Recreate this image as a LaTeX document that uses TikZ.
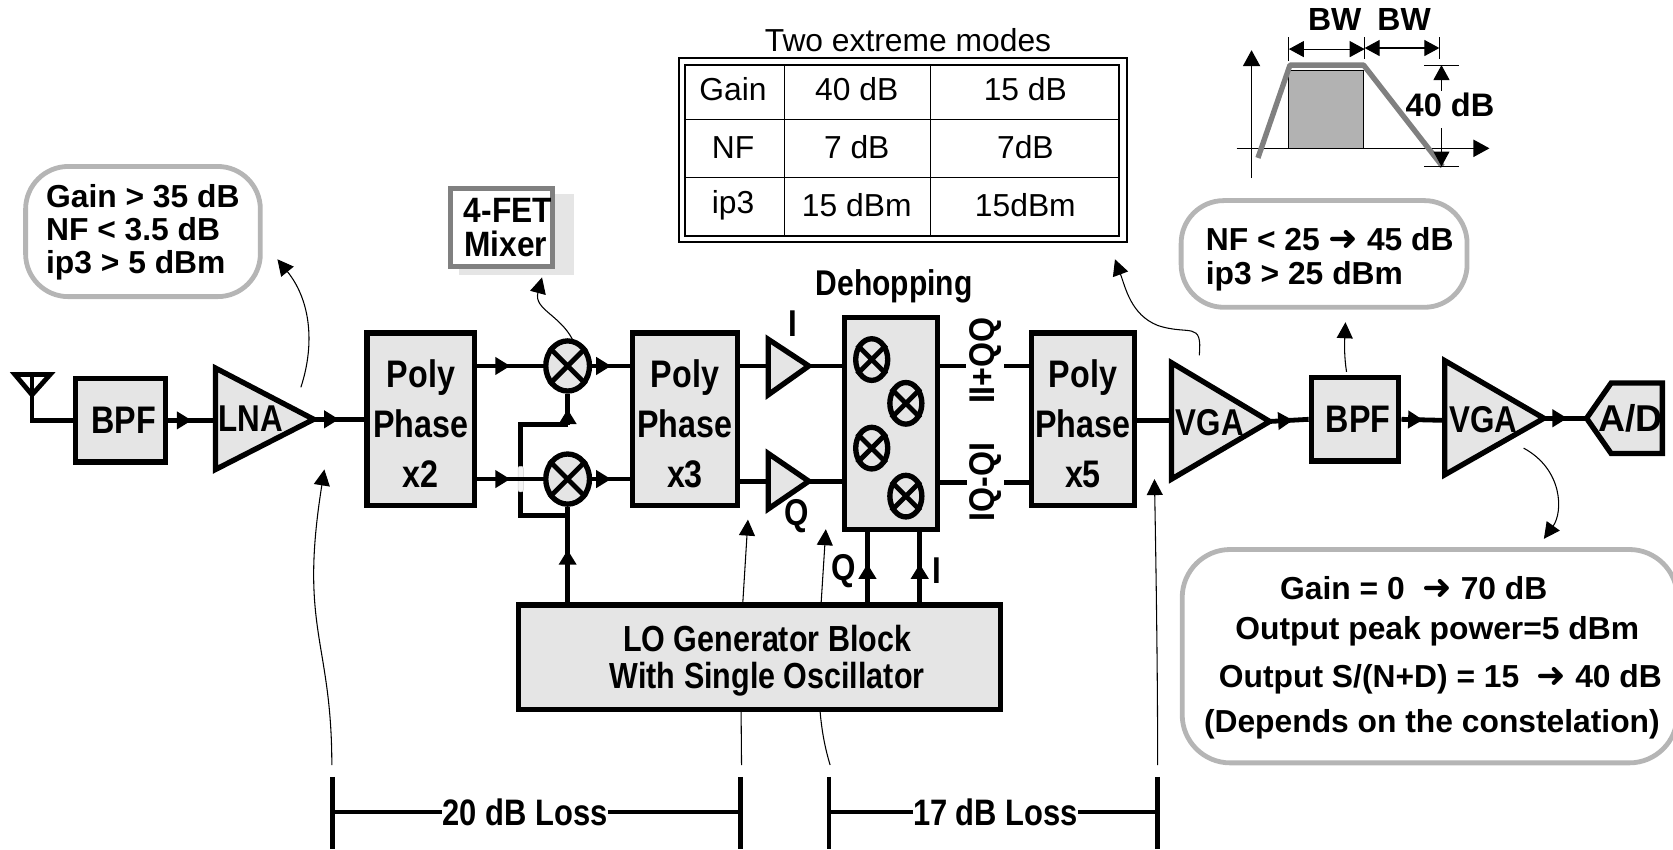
\documentclass[tikz,border=0pt]{standalone}
\usepackage{fontspec}
\usetikzlibrary{arrows.meta,shapes.geometric,decorations.markings,calc}
\setmainfont{Liberation Sans}
\newfontfamily\fcond{Liberation Sans}[FakeStretch=0.84]
\newfontfamily\fmid{Liberation Sans}[FakeStretch=0.9]
\newfontfamily\fwide{Liberation Sans}[FakeStretch=1.0]
\newfontfamily\fdj{DejaVu Sans}
\newcommand{\arw}{{\fdj\bfseries\fontsize{33}{26}\selectfont ➜}}
\definecolor{blk}{gray}{0.70}
\definecolor{fillg}{gray}{0.9}
\definecolor{bub}{gray}{0.71}
\tikzset{
  boxn/.style={draw,line width=5pt,fill=fillg,inner sep=0pt,align=center,font=\fcond\bfseries\fontsize{36}{47}\selectfont},
  bubn/.style={draw=bub,line width=4.5pt,rounded corners=40pt,inner sep=0pt,fill=white},
  amp/.style={draw,line width=5pt,fill=fillg,line join=miter},
  wire/.style={line width=4.5pt},
  midarr/.style={line width=4.5pt,postaction={decorate},decoration={markings,mark=at position #1 with {\arrow{Triangle[length=14pt,width=16pt]}}}},
  thin/.style={line width=1pt,-{Triangle[length=15pt,width=15pt]}},
  mixn/.style={draw,ellipse,line width=5pt,fill=fillg,inner sep=0pt},
  lab/.style={font=\fcond\bfseries\fontsize{35}{36}\selectfont,inner sep=0pt},
  bubt/.style={font=\fwide\bfseries\fontsize{29.8}{31}\selectfont,inner sep=0pt},
  tabn/.style={font=\fontsize{29.8}{30}\selectfont,inner sep=0pt},
  dim/.style={line width=1pt,{Triangle[length=14pt,width=15pt]}-{Triangle[length=14pt,width=15pt]}},
  tick/.style={line width=1pt},
}
\newcommand{\mixer}[5]{%
  \node[mixn,minimum width=#4,minimum height=#5] (#1) at (#2,#3) {};
  \draw[line width=4.5pt] (#1.45)--(#1.225) (#1.135)--(#1.315);
}
\begin{document}
\begin{tikzpicture}[x=1pt,y=-1pt]
\useasboundingbox (0,0) rectangle (1568,796);
% free ends
\coordinate (ant) at (30,351);
\coordinate (a1) at (311,717);
\coordinate (a1t) at (304,440);
\coordinate (a2) at (695,717);
\coordinate (a2t) at (701,487);
\coordinate (a3) at (778,717);
\coordinate (a3t) at (774,496);
\coordinate (a4) at (1085,717);
\coordinate (a4t) at (1082,449);
% thin arrows behind blocks
\draw[thin] (a1) .. controls (311,600) and (280,590) .. (a1t);
\draw[thin] (a2) -- (694,600) -- (a2t);
\draw[thin] (a3) .. controls (770,690) and (765,660) .. (768,590) -- (a3t);
\draw[thin] (a4) .. controls (1085,650) and (1084,560) .. (a4t);
% antenna
\draw[line width=4.5pt,line join=miter] (14,351) -- (47,351) -- (30,370) -- cycle;
% boxes
\node[boxn,minimum width=84pt,minimum height=78pt] (bpf1) at (113,394) {\hspace{6pt}BPF};
\draw[wire,line join=miter] (ant) -- (30,394) -- (bpf1.west);
\draw[amp] (202,345) -- (202,440) -- (294,393) -- cycle;
\coordinate (lnaL) at (202,394); \coordinate (lnaR) at (294,393);
\node[lab] (lnat) at (235,392) {LNA};
\node[boxn,minimum width=101pt,minimum height=162pt] (pp1) at (394.5,393) {};
\node[boxn,draw=none,fill=none] (pp1t) at (394.5,397) {Poly\\Phase\\x2};
\draw[midarr=.5] (bpf1.east) -- (lnaL);
\draw[midarr=.5] (lnaR) -- (pp1.west);
\node[boxn,minimum width=98pt,minimum height=162pt] (pp2) at (642,393) {};
\node[boxn,draw=none,fill=none] (pp2t) at (642,397) {Poly\\Phase\\x3};
\mixer{m1}{532}{343}{41pt}{47pt}
\mixer{m2}{532}{449}{41pt}{47pt}
\draw[midarr=.5] (pp1.east|-m1) -- (m1.west);
\draw[midarr=.5] (m1.east) -- (pp2.west|-m1);
\draw[midarr=.5] (m2.east) -- (pp2.west|-m2);
% LO and cross feed
\node[boxn,minimum width=452pt,minimum height=98pt] (lo) at (712,616) {};
\node[font=\fcond\bfseries\fontsize{34}{35}\selectfont,align=center,inner sep=0pt] (lot) at (719,619) {LO Generator Block\\With Single Oscillator};
\draw[midarr=.55] (lo.north-|m2) -- (m2.south);
\draw[wire,line join=miter] (m2.south|-0,483) -- (488,483) -- (488,398) -- (532,398);
\draw[midarr=.5] (532,398) -- (m1.south);
\node[draw=gray!40,fill=white!92!gray,rounded corners=2pt,line width=.5pt,minimum width=5pt,minimum height=24pt,inner sep=0pt] (hl) at (488,449) {};
\draw[midarr=.5,line width=4pt] (pp1.east|-m2) -- (m2.west);
% amps
\draw[amp] (720,318) -- (720,370) -- (758,343) -- cycle;
\draw[amp] (720,425) -- (720,477) -- (758,451) -- cycle;
\coordinate (i1) at (720,343); \coordinate (i2) at (720,451);
\coordinate (o1) at (758,343); \coordinate (o2) at (758,451);
\draw[wire] (pp2.east|-i1) -- (i1);
\draw[wire] (pp2.east|-i2) -- (i2);
\node[lab] (ilab) at (743,303) {I};
\node[lab] (qlab) at (747,484) {Q};
% dehopping
\node[boxn,minimum width=87pt,minimum height=199pt] (deh) at (835,397) {};
\mixer{d1}{817}{337}{30pt}{39pt}
\mixer{d2}{849}{378}{30pt}{39pt}
\mixer{d3}{817}{420}{30pt}{39pt}
\mixer{d4}{849}{465}{30pt}{39pt}
\draw[wire] (o1) -- (deh.west|-o1);
\draw[wire] (o2) -- (deh.west|-o2);
\node[lab,font=\fcond\bfseries\fontsize{33.5}{36}\selectfont] (dlab) at (838,268) {Dehopping};
\draw[midarr=.55] (lo.north-|813,0) -- (deh.south-|813,0);
\draw[midarr=.55] (lo.north-|862,0) -- (deh.south-|862,0);
\node[lab] (q2) at (791,535) {Q};
\node[lab] (i2l) at (878,535) {I};
% PP3 + outputs
\node[boxn,minimum width=97pt,minimum height=162pt] (pp3) at (1015,393) {};
\node[boxn,draw=none,fill=none] (pp3t) at (1015,397) {Poly\\Phase\\x5};
\coordinate (g1) at (905,343); \coordinate (g2) at (941,343);
\coordinate (g3) at (906,452); \coordinate (g4) at (941,452);
\draw[wire] (deh.east|-g1) -- (g1);
\draw[wire] (g2) -- (pp3.west|-g2);
\draw[wire] (deh.east|-g3) -- (g3);
\draw[wire] (g4) -- (pp3.west|-g4);
\node[lab,rotate=90,font=\fmid\bfseries\fontsize{33.5}{34}\selectfont] (iiqq) at (924,338) {II+QQ};
\node[lab,rotate=90,font=\fmid\bfseries\fontsize{33.5}{34}\selectfont] (iqqi) at (924,452) {IQ-QI};
% VGA1
\draw[amp] (1098,340) -- (1098,449) -- (1190,395) -- cycle;
\coordinate (v1L) at (1098,394); \coordinate (v1R) at (1190,395);
\node[lab] (v1t) at (1134,396) {VGA};
\draw[wire] (pp3.east|-v1L) -- (v1L);
\node[boxn,minimum width=82pt,minimum height=78pt] (bpf2) at (1270,393) {\hspace{6pt}BPF};
\draw[midarr=.6] (v1R) -- (bpf2.west);
% VGA2
\draw[amp] (1354,338) -- (1354,445) -- (1447,392) -- cycle;
\coordinate (v2L) at (1354,394); \coordinate (v2R) at (1447,392);
\node[lab] (v2t) at (1390,393) {VGA};
\draw[midarr=.5] (bpf2.east) -- (v2L);
% A/D
\draw[amp] (1558,359) -- (1510,359) -- (1487,392) -- (1510,425) -- (1558,425) -- cycle;
\coordinate (adL) at (1487,392);
\node[lab,font=\fwide\bfseries\fontsize{35}{36}\selectfont] (adt) at (1528,392) {A/D};
\draw[midarr=.55] (v2R) -- (adL);
% loss bars
\coordinate (b1a) at (312,728); \coordinate (b1b) at (312,796);
\coordinate (b2a) at (694,728); \coordinate (b2b) at (694,796);
\coordinate (b3a) at (777,728); \coordinate (b3b) at (777,796);
\coordinate (b4a) at (1085,728); \coordinate (b4b) at (1085,796);
\draw[wire] (b1a)--(b1b) (b2a)--(b2b) (b3a)--(b3b) (b4a)--(b4b);
\node[lab,font=\fcond\bfseries\fontsize{34.5}{34}\selectfont] (l1) at (492,761) {20 dB Loss};
\node[lab,font=\fcond\bfseries\fontsize{34.5}{34}\selectfont] (l2) at (933,761) {17 dB Loss};
\draw[wire] (312,761) -- (l1.west);
\draw[wire] (l1.east) -- (694,761);
\draw[wire] (777,761) -- (l2.west);
\draw[wire] (l2.east) -- (1085,761);
% bubbles
\node[bubn,minimum width=220pt,minimum height=122pt] (b1) at (134,217) {};
\node[bubt,align=left,anchor=west] (b1t) at (43,218) {Gain > 35 dB\\NF < 3.5 dB\\ip3 > 5 dBm};
\node[bubn,minimum width=268pt,minimum height=100pt] (b2) at (1241,238) {};
\node[bubt,align=left,anchor=west,font=\fwide\bfseries\fontsize{29.8}{32}\selectfont] (b2t) at (1130,243) {NF < 25 \arw{} 45 dB\\ip3 > 25 dBm};
\node[bubn,minimum width=464pt,minimum height=200pt,rounded corners=45pt] (b3) at (1340,615) {};
\node[bubt] (t31) at (1325,551) {Gain = 0\ \ \arw{} 70 dB};
\node[bubt] (t32) at (1347,592) {Output peak power=5 dBm};
\node[bubt] (t33) at (1350,637) {Output S/(N+D) = 15\ \ \arw{} 40 dB};
\node[bubt] (t34) at (1342,679) {(Depends on the constelation)};
% 4-FET
\node[fill=fillg,minimum width=108pt,minimum height=76pt,inner sep=0pt] (shad) at (484,220) {};
\node[draw=black!50,fill=white,line width=4.5pt,minimum width=95pt,minimum height=73pt,inner sep=0pt,align=center,font=\fmid\bfseries\fontsize{33}{32}\selectfont] (fet) at (470,213) {\hspace{12pt}4-FET\\\hspace{8pt}Mixer};
% table
\node[draw,line width=2pt,minimum width=420pt,minimum height=173pt,inner sep=0pt] (tabo) at (846,140.5) {};
\node[draw,line width=2pt,minimum width=407pt,minimum height=160pt,inner sep=0pt] (tabi) at (845.5,141) {};
\draw[line width=1pt] (tabi.north-|735,0) -- (tabi.south-|735,0);
\draw[line width=1pt] (tabi.north-|872,0) -- (tabi.south-|872,0);
\draw[line width=1pt] (tabi.west|-0,112) -- (tabi.east|-0,112);
\draw[line width=1pt] (tabi.west|-0,166) -- (tabi.east|-0,166);
\node[tabn] (tt) at (851,38) {Two extreme modes};
\node[tabn] (c11) at (687,84) {Gain};
\node[tabn] (c12) at (803,84) {40 dB};
\node[tabn] (c13) at (961,84) {15 dB};
\node[tabn] (c21) at (687,138) {NF};
\node[tabn] (c22) at (803,138) {7 dB};
\node[tabn] (c23) at (961,138) {7dB};
\node[tabn] (c31) at (687,192) {ip3};
\node[tabn] (c32) at (803,192) {15 dBm};
\node[tabn] (c33) at (961,192) {15dBm};
% thin annotation arrows
\draw[thin] (lnaR)++(-12,-30) .. controls (296,320) and (290,280) .. (260,243);
\draw[thin] (m1.north)++(5,2) .. controls (525,295) and (500,290) .. (508,260);
\draw[thin] (1124,333) .. controls (1127,300) and (1115,315) .. (1085,305) .. controls (1060,295) and (1055,270) .. (1045,243);
\draw[thin] (bpf2.north)++(-8,-3) .. controls (1260,335) and (1260,325) .. (1261,302);
\draw[thin] (1428,420) .. controls (1465,440) and (1465,480) .. (1447,505);
% spectrum
\node[draw,line width=1pt,fill=blk,minimum width=70pt,minimum height=73pt,inner sep=0pt] (bw) at (1243,103) {};
\draw[line width=1.5pt,-{Triangle[length=15pt,width=16pt]}] (1173,167) -- (1173,47);
\draw[line width=1.5pt,-{Triangle[length=15pt,width=16pt]}] (1159,139) -- (1396,139);
\draw[line width=5pt,draw=black!50,line join=bevel] (1179,148) -- (1209,61) -- (1278,61) -- (1352,156);
\draw[tick] (1208,35)--(1208,57) (1279,35)--(1279,55) (1349,35)--(1349,55);
\draw[dim] (1208,46) -- (1279,46);
\draw[dim] (1279,45) -- (1349,45);
\node[lab,font=\fwide\bfseries\fontsize{30}{30}\selectfont] (bw1) at (1251,18) {BW};
\node[lab,font=\fwide\bfseries\fontsize{30}{30}\selectfont] (bw2) at (1316,18) {BW};
\draw[tick] (1335,61)--(1367,61) (1335,156)--(1367,156);
\node[lab,font=\fwide\bfseries\fontsize{30.5}{30}\selectfont] (db40) at (1359,98) {40 dB};
\draw[line width=1pt,{Triangle[length=14pt,width=15pt]}-] (1351,61) -- (1351,85);
\draw[line width=1pt,-{Triangle[length=14pt,width=15pt]}] (1351,120) -- (1351,156);
\end{tikzpicture}
\end{document}
